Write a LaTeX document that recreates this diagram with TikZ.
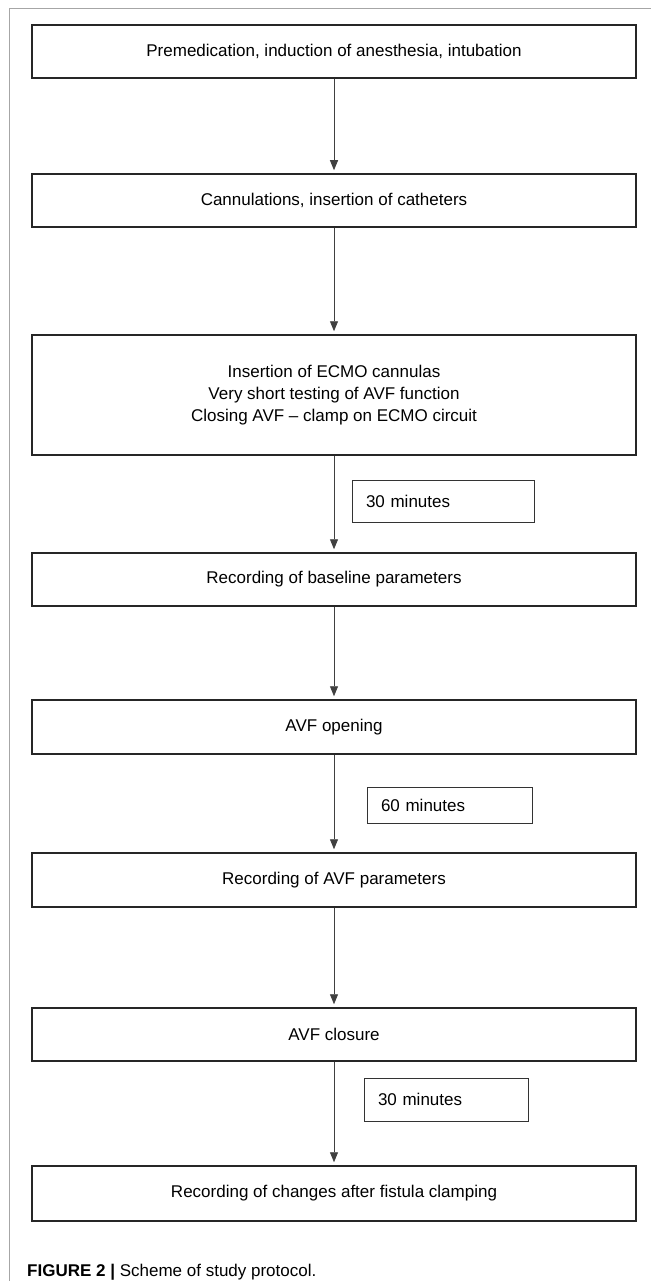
\documentclass[tikz,border=0pt]{standalone}
\usepackage{fontspec}
\setmainfont{Liberation Sans}
\usetikzlibrary{arrows.meta}
\begin{document}
\begin{tikzpicture}[x=1pt,y=-1pt,
  stepbox/.style={draw=black!85, line width=1.5pt, minimum width=604pt, inner sep=0pt, align=center, font=\fontsize{17}{22}\selectfont},
  timebox/.style={draw=black!80, line width=0.9pt, inner ysep=0pt, inner xsep=14pt, align=left, font=\fontsize{17}{22}\selectfont},
  arr/.style={draw=black!75, line width=0.9pt, -{Triangle[width=8pt,length=10pt]}, shorten >=3pt}
]
\useasboundingbox (0,0) rectangle (651,1281);
\draw[gray!70, line width=1pt] (9,1281) -- (9,9) -- (651,9);

\node[stepbox, minimum height=53pt] (b1) at (334,51.5) {Premedication, induction of anesthesia, intubation};
\node[stepbox, minimum height=53pt] (b2) at (334,200.5) {Cannulations, insertion of catheters};
\node[stepbox, minimum height=120pt] (b3) at (334,395) {Insertion of ECMO cannulas\\Very short testing of AVF function\\Closing AVF -- clamp on ECMO circuit};
\node[stepbox, minimum height=53pt] (b4) at (334,579.5) {Recording of baseline parameters};
\node[stepbox, minimum height=54pt] (b5) at (334,727) {AVF opening};
\node[stepbox, minimum height=54pt] (b6) at (334,880) {Recording of AVF parameters};
\node[stepbox, minimum height=53pt] (b7) at (334,1034.5) {AVF closure};
\node[stepbox, minimum height=55pt] (b8) at (334,1193.5) {Recording of changes after fistula clamping};

\node[timebox, minimum height=42pt, text width=154pt] (t1) at (443,501) {30 minutes};
\node[timebox, minimum height=36pt, text width=137pt] (t2) at (449.5,805) {60 minutes};
\node[timebox, minimum height=43pt, text width=136pt] (t3) at (446,1099.5) {30 minutes};

\draw[arr] (b1.south) -- (b2.north);
\draw[arr] (b2.south) -- (b3.north);
\draw[arr] (b3.south) -- (b4.north);
\draw[arr] (b4.south) -- (b5.north);
\draw[arr] (b5.south) -- (b6.north);
\draw[arr] (b6.south) -- (b7.north);
\draw[arr] (b7.south) -- (b8.north);

\node[anchor=base west, inner sep=0pt, font=\fontsize{17}{20}\selectfont] (cap) at (27,1276) {\textbf{FIGURE 2 |} Scheme of study protocol.};
\end{tikzpicture}
\end{document}
